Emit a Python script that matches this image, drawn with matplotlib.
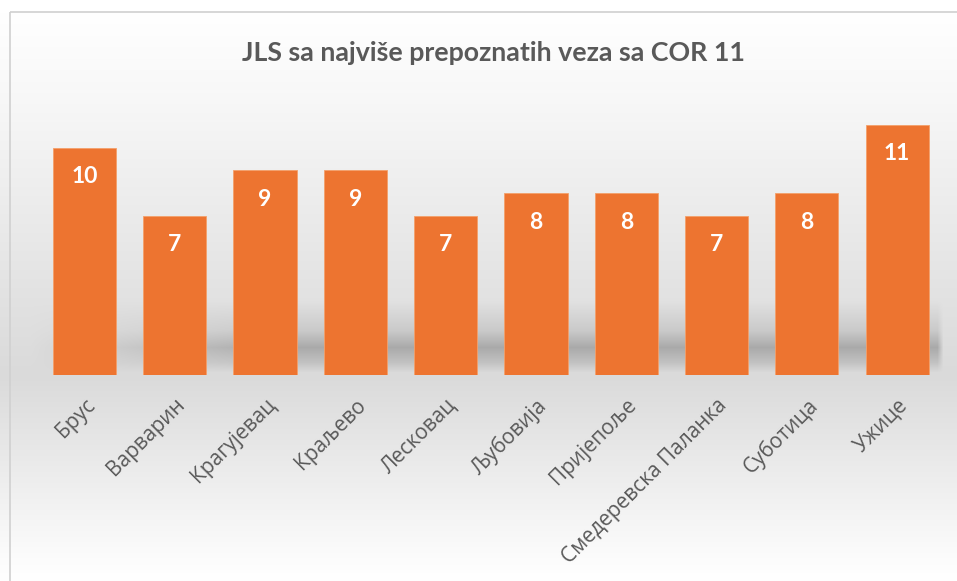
import numpy as np
import matplotlib.pyplot as plt
from matplotlib.patches import Rectangle

categories = ["Брус", "Варварин", "Крагујевац", "Краљево", "Лесковац",
              "Љубовија", "Пријепоље", "Смедеревска Паланка", "Суботица", "Ужице"]
values = [10, 7, 9, 9, 7, 8, 8, 7, 8, 11]
title = "JLS sa najviše prepoznatih veza sa COR 11"

W, H = 957, 581
fig = plt.figure(figsize=(W / 100, H / 100), dpi=100)

# background gradient (figure pixel rows, top -> bottom)
bg = fig.add_axes([0, 0, 1, 1])
rows = np.arange(H)
stops_y = [12, 100, 300, 375, 450, 560, 581]
stops_c = [1.0, 0.97, 0.885, 0.855, 0.91, 0.99, 1.0]
col = np.interp(rows, stops_y, stops_c)
img = np.tile(col[:, None], (1, W))
# soft shadow band behind the bars
cols = np.arange(W)
xfade = np.clip((cols - 30) / 250, 0, 1) * np.clip((943 - cols) / 6, 0, 1)
band = np.interp(rows, [300, 330, 347, 362, 372], [0, 0.08, 0.2, 0.1, 0])
img = img - band[:, None] * xfade[None, :]
bg.imshow(np.dstack([img] * 3), extent=[0, W, H, 0], aspect="auto")
bg.add_patch(Rectangle((10, 12), W, H, fill=False, ec="#d0d0d0", lw=1.2))
bg.set_xlim(0, W)
bg.set_ylim(H, 0)
bg.axis("off")

ax = fig.add_axes([39.3 / W, (H - 375) / H, 903 / W, 273 / H])
ax.patch.set_alpha(0)
x = np.arange(len(categories))
bars = ax.bar(x, values, width=0.7, color="#ED7430", edgecolor="#F4A06A", linewidth=0.6)
for xi, v in zip(x, values):
    ax.annotate(str(v), (xi, v), xytext=(0, -21), textcoords="offset points",
                ha="center", va="center", color="white", fontsize=16.5,
                fontweight="bold", family="Lato")
ax.set_xlim(-0.5, len(categories) - 0.5)
ax.set_ylim(0, 12)
ax.set_yticks([])
ax.set_xticks(x)
ax.set_xticklabels(categories, rotation=45, ha="right", rotation_mode="anchor",
                   fontsize=15, color="#595959", family="Open Sans")
ax.tick_params(axis="x", length=0, pad=14)
for s in ax.spines.values():
    s.set_visible(False)

fig.text(493 / W, 1 - 53 / H, title, ha="center", va="center", fontsize=19.3,
         fontweight="bold", color="#595959", family="Lato")

fig.savefig("out.png", dpi=100)
